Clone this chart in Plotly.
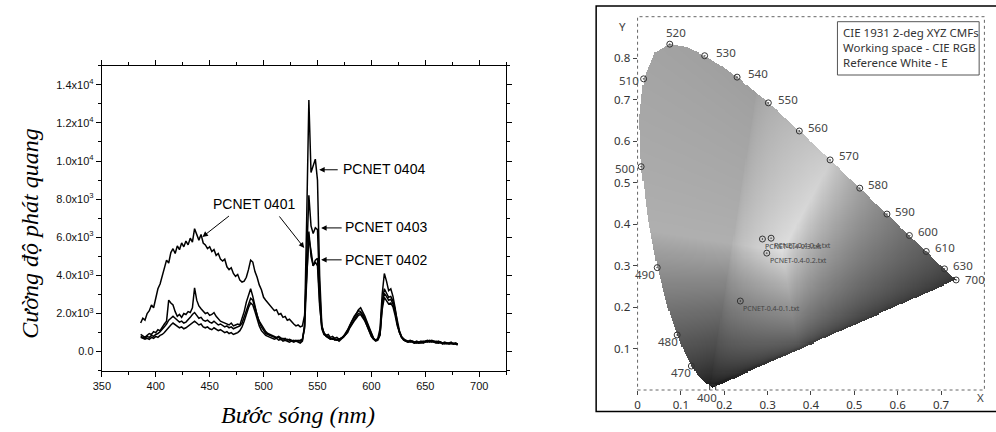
import numpy as np
import plotly.graph_objects as go

# ---------------- Photoluminescence spectra (left panel) ----------------
WAVELENGTH_NM = list(range(386, 681, 2))

PCNET_0401 = [
    1500, 1750, 1650, 2000, 2150, 2450, 2300, 2800, 3300, 3550,   # 386-404
    4000, 4400, 4800, 4650, 5200, 5400, 5150, 5550, 5350, 5700,   # 406-424
    5500, 5800, 5600, 5950, 5750, 6450, 6100, 5850, 6150, 5700,   # 426-444
    5600, 5400, 5500, 5250, 5350, 5050, 5150, 4850, 4750, 4850,   # 446-464
    4450, 4300, 4400, 4100, 3950, 4050, 3750, 3650, 3700, 3900,   # 466-484
    4300, 4800, 4700, 4200, 3900, 3500, 3250, 2850, 2700, 2550,   # 486-504
    2400, 2300, 2150, 2200, 1950, 2000, 1800, 1850, 1650, 1700,   # 506-524
    1550, 1450, 1350, 1400, 1300, 1350, 1900, 4200, 6000, 5300,   # 526-544
    4500, 4700, 4500, 2400, 1300, 1000, 850, 900, 750, 800,       # 546-564
    700, 750, 650, 700, 800, 900, 1100, 1300, 1500, 1700,         # 566-584
    1850, 2000, 2050, 1950, 1750, 1500, 1200, 900, 700, 600,      # 586-604
    650, 900, 2200, 2850, 2700, 2500, 2550, 2350, 1900, 1350,     # 606-624
    1000, 750, 650, 600, 550, 600, 550, 500, 550, 500,            # 626-644
    550, 500, 550, 600, 550, 600, 550, 500, 550, 500,             # 646-664
    450, 500, 450, 450, 500, 400, 450, 400,                       # 666-680
]

PCNET_0402 = [
    900, 800, 750, 850, 950, 900, 1050, 1000, 1150, 1100,         # 386-404
    1300, 1450, 1600, 2700, 2550, 2450, 2100, 1850, 1950, 1800,   # 406-424
    2000, 1950, 2100, 2050, 2300, 3350, 2700, 2400, 2250, 2100,   # 426-444
    2000, 2050, 1900, 1950, 2050, 1850, 1700, 1600, 1550, 1500,   # 446-464
    1450, 1400, 1500, 1350, 1400, 1450, 1400, 1700, 2100, 2600,   # 466-484
    3000, 3300, 2900, 2400, 1900, 1600, 1400, 1200, 1050, 950,    # 486-504
    900, 850, 800, 750, 800, 700, 650, 700, 600, 650,             # 506-524
    600, 550, 600, 550, 600, 650, 1200, 3800, 6300, 5000,         # 526-544
    4500, 4800, 4900, 2600, 1200, 900, 800, 700, 650, 700,        # 546-564
    600, 650, 550, 650, 750, 850, 1000, 1250, 1450, 1600,         # 566-584
    1750, 1900, 1950, 1800, 1600, 1350, 1100, 800, 650, 550,      # 586-604
    600, 850, 2400, 3050, 2900, 2700, 2750, 2500, 2100, 1450,     # 606-624
    1050, 750, 600, 550, 500, 550, 500, 450, 500, 450,            # 626-644
    500, 450, 500, 550, 500, 550, 500, 450, 500, 450,             # 646-664
    450, 450, 400, 450, 400, 450, 400, 400,                       # 666-680
]

PCNET_0403 = [
    800, 750, 700, 800, 750, 850, 800, 900, 950, 1050,            # 386-404
    1150, 1300, 1450, 1650, 1750, 1850, 1750, 1650, 1550, 1600,   # 406-424
    1500, 1550, 1650, 1800, 1950, 2050, 1900, 1750, 1800, 1650,   # 426-444
    1600, 1650, 1550, 1500, 1600, 1500, 1400, 1450, 1350, 1300,   # 446-464
    1350, 1250, 1300, 1200, 1250, 1300, 1350, 1500, 1800, 2200,   # 466-484
    2500, 2800, 2700, 2300, 1900, 1550, 1300, 1100, 950, 900,     # 486-504
    850, 800, 750, 700, 750, 650, 700, 600, 650, 600,             # 506-524
    550, 600, 550, 600, 550, 600, 1300, 5000, 8200, 6600,         # 526-544
    6200, 6500, 6400, 3200, 1300, 950, 850, 750, 700, 650,        # 546-564
    650, 600, 650, 700, 800, 950, 1150, 1400, 1650, 1850,         # 566-584
    2000, 2200, 2300, 2100, 1850, 1550, 1250, 950, 700, 600,      # 586-604
    650, 950, 2600, 3300, 3100, 2850, 2900, 2650, 2200, 1550,     # 606-624
    1100, 800, 650, 550, 550, 500, 550, 500, 450, 500,            # 626-644
    450, 500, 550, 500, 550, 500, 550, 500, 450, 500,             # 646-664
    400, 450, 450, 400, 450, 400, 400, 350,                       # 666-680
]

PCNET_0404 = [
    750, 700, 650, 700, 650, 750, 700, 800, 750, 850,             # 386-404
    900, 1000, 1150, 1300, 1400, 1500, 1400, 1300, 1250, 1300,    # 406-424
    1200, 1250, 1350, 1400, 1550, 1600, 1500, 1400, 1450, 1300,   # 426-444
    1250, 1300, 1200, 1150, 1250, 1150, 1100, 1150, 1050, 1000,   # 446-464
    1050, 950, 1000, 900, 950, 1000, 1100, 1300, 1600, 2000,      # 466-484
    2300, 2550, 2450, 2100, 1700, 1350, 1100, 950, 850, 800,      # 486-504
    750, 700, 650, 700, 600, 650, 550, 600, 550, 500,             # 506-524
    550, 500, 550, 500, 450, 550, 1400, 7000, 13200, 9400,        # 526-544
    9800, 10100, 9000, 4000, 1400, 950, 800, 700, 650, 700,       # 546-564
    650, 600, 650, 700, 750, 900, 1100, 1350, 1600, 1800,         # 566-584
    2000, 2150, 2100, 1900, 1650, 1350, 1050, 800, 650, 600,      # 586-604
    700, 1200, 3000, 4100, 3700, 3200, 3300, 2900, 2300, 1500,    # 606-624
    1000, 750, 600, 550, 500, 550, 500, 450, 500, 450,            # 626-644
    500, 550, 500, 550, 600, 550, 500, 550, 450, 500,             # 646-664
    450, 400, 450, 400, 450, 400, 450, 400,                       # 666-680
]

SPECTRA = {
    "PCNET 0401": PCNET_0401,
    "PCNET 0402": PCNET_0402,
    "PCNET 0403": PCNET_0403,
    "PCNET 0404": PCNET_0404,
}

X_TICKS_NM = [350, 400, 450, 500, 550, 600, 650, 700]
Y_TICK_VALS = [0, 2000, 4000, 6000, 8000, 10000, 12000, 14000]
Y_TICK_TEXT = ["0.0", "2.0x10<sup>3</sup>", "4.0x10<sup>3</sup>", "6.0x10<sup>3</sup>",
               "8.0x10<sup>3</sup>", "1.0x10<sup>4</sup>", "1.2x10<sup>4</sup>",
               "1.4x10<sup>4</sup>"]

# ---------------- CIE 1931 chromaticity diagram (right panel) ----------------
LOCUS_NM = list(range(380, 701, 5))
LOCUS_X = [0.1741, 0.1740, 0.1738, 0.1736, 0.1733, 0.1730, 0.1726, 0.1721, 0.1714,
           0.1703, 0.1689, 0.1669, 0.1644, 0.1611, 0.1566, 0.1510, 0.1440, 0.1355,
           0.1241, 0.1096, 0.0913, 0.0687, 0.0454, 0.0235, 0.0082, 0.0039, 0.0139,
           0.0389, 0.0743, 0.1142, 0.1547, 0.1929, 0.2296, 0.2658, 0.3016, 0.3373,
           0.3731, 0.4087, 0.4441, 0.4788, 0.5125, 0.5448, 0.5752, 0.6029, 0.6270,
           0.6482, 0.6658, 0.6801, 0.6915, 0.7006, 0.7079, 0.7140, 0.7190, 0.7230,
           0.7260, 0.7283, 0.7300, 0.7311, 0.7320, 0.7327, 0.7334, 0.7340, 0.7344,
           0.7346, 0.7347]
LOCUS_Y = [0.0050, 0.0050, 0.0049, 0.0049, 0.0048, 0.0048, 0.0048, 0.0048, 0.0051,
           0.0058, 0.0069, 0.0086, 0.0109, 0.0138, 0.0177, 0.0227, 0.0297, 0.0399,
           0.0578, 0.0868, 0.1327, 0.2007, 0.2950, 0.4127, 0.5384, 0.6548, 0.7502,
           0.8120, 0.8338, 0.8262, 0.8059, 0.7816, 0.7543, 0.7243, 0.6923, 0.6589,
           0.6245, 0.5896, 0.5547, 0.5202, 0.4866, 0.4544, 0.4242, 0.3965, 0.3725,
           0.3514, 0.3340, 0.3197, 0.3083, 0.2993, 0.2920, 0.2859, 0.2809, 0.2770,
           0.2740, 0.2717, 0.2700, 0.2689, 0.2680, 0.2673, 0.2666, 0.2660, 0.2656,
           0.2654, 0.2653]

MARKED_NM = [400, 470, 480, 490, 500, 510, 520, 530, 540, 550, 560, 570, 580, 590,
             600, 610, 630, 700]
# label offset from each marked point, in screen pixels (right, down)
MARK_LABEL_SHIFT = {400: (-6, 9), 470: (-10, 6), 480: (-9, 7), 490: (-12, 7),
                    500: (-16, 2), 510: (-15, 2), 520: (6, -12), 530: (21, -3),
                    540: (21, -4), 550: (20, -3), 560: (19, -3), 570: (19, -4),
                    580: (18, -4), 590: (18, -3), 600: (19, -4), 610: (19, -4),
                    630: (19, -3), 700: (19, 0)}

SAMPLE_NAMES = ["PCNET-0.4-0.1.txt", "PCNET-0.4-0.2.txt", "PCNET-0.4-0.3.txt",
                "PCNET-0.4-0.4.txt"]
SAMPLE_X = [0.237, 0.298, 0.288, 0.308]
SAMPLE_Y = [0.2145, 0.330, 0.364, 0.366]

INFO_LINES = ["CIE 1931 2-deg XYZ CMFs", "Working space - CIE RGB", "Reference White - E"]


def inside_polygon(px, py, vx, vy):
    res = np.zeros(px.shape, dtype=bool)
    n = len(vx)
    j = n - 1
    for i in range(n):
        if vy[i] != vy[j]:
            crosses = (vy[i] > py) != (vy[j] > py)
            xint = (vx[j] - vx[i]) * (py - vy[i]) / (vy[j] - vy[i]) + vx[i]
            res ^= crosses & (px < xint)
        j = i
    return res


def locus_shading(step=0.0025):
    gx = np.arange(0.0, 0.745, step)
    gy = np.arange(0.0, 0.84, step)
    X, Y = np.meshgrid(gx, gy)
    mask = inside_polygon(X, Y, np.array(LOCUS_X), np.array(LOCUS_Y))
    with np.errstate(divide="ignore", invalid="ignore"):
        yy = np.where(Y > 1e-4, Y, 1e-4)
        cx = X / yy
        cz = (1.0 - X - Y) / yy
        m = np.array([[2.3706743, -0.9000405, -0.4706338],
                      [-0.5138850, 1.4253036, 0.0885814],
                      [0.0052982, -0.0146949, 1.0093968]])
        r = m[0, 0] * cx + m[0, 1] + m[0, 2] * cz
        g = m[1, 0] * cx + m[1, 1] + m[1, 2] * cz
        b = m[2, 0] * cx + m[2, 1] + m[2, 2] * cz
        rgb = np.clip(np.stack([r, g, b]), 0, None)
        rgb = rgb / np.maximum(rgb.max(axis=0), 1e-9)
        rgb = rgb ** (1 / 1.8)
        gray = 222 * (0.21 * rgb[0] + 0.71 * rgb[1] + 0.08 * rgb[2])
    gray = np.where(mask, gray, np.nan)
    return gx, gy, gray


fig = go.Figure()

for name, vals in SPECTRA.items():
    fig.add_trace(go.Scatter(
        x=WAVELENGTH_NM, y=vals, mode="lines", name=name,
        line=dict(color="black", width=1.5),
        xaxis="x", yaxis="y", showlegend=False, hoverinfo="skip"))

gx, gy, gray = locus_shading()
fig.add_trace(go.Heatmap(
    x=gx, y=gy, z=gray, xaxis="x2", yaxis="y2", zmin=0, zmax=255,
    colorscale=[[0, "black"], [1, "white"]], showscale=False, hoverinfo="skip"))

lookup = dict(zip(LOCUS_NM, zip(LOCUS_X, LOCUS_Y)))
mark_x = [lookup[w][0] for w in MARKED_NM]
mark_y = [lookup[w][1] for w in MARKED_NM]
mark_sym = ["square-open" if w == 400 else "circle-open-dot" for w in MARKED_NM]
fig.add_trace(go.Scatter(
    x=mark_x, y=mark_y, mode="markers", xaxis="x2", yaxis="y2", showlegend=False,
    hoverinfo="skip",
    marker=dict(symbol=mark_sym, size=6, color="#333333", line=dict(color="#333333", width=1))))

fig.add_trace(go.Scatter(
    x=SAMPLE_X, y=SAMPLE_Y, mode="markers", xaxis="x2", yaxis="y2", showlegend=False,
    hoverinfo="skip",
    marker=dict(symbol="circle-open-dot", size=6, color="#333333",
                line=dict(color="#333333", width=1))))

annotations = []

# spectrum labels with arrows
label_font = dict(family="Liberation Sans, Arial", size=14, color="black")
arrow_style = dict(showarrow=True, arrowhead=2, arrowsize=1.1, arrowwidth=1,
                   arrowcolor="black", standoff=0, xref="x", yref="y", text="")
for tip_x, tip_y, ax, ay in [(551.6, 9540, 20, 0), (553.4, 6490, 22, 0),
                             (553.4, 4815, 22, 0), (443.3, 6020, 28, -22),
                             (537.7, 5440, -26, -33)]:
    annotations.append(dict(x=tip_x, y=tip_y, ax=ax, ay=ay, **arrow_style))
for text, tx, ty, anchor in [("PCNET 0404", 571.5, 9590, "left"),
                             ("PCNET 0403", 573.5, 6550, "left"),
                             ("PCNET 0402", 573.5, 4815, "left"),
                             ("PCNET 0401", 491.0, 7750, "center")]:
    annotations.append(dict(x=tx, y=ty, xref="x", yref="y", text=text, showarrow=False,
                            xanchor=anchor, yanchor="middle", font=label_font))

# axis titles of the spectrum panel
title_font = dict(family="Liberation Serif, Times New Roman", size=24, color="black")
annotations.append(dict(x=21 / 996, y=1 - 233 / 432, xref="paper", yref="paper",
                        text="<i>Cường độ phát quang</i>", textangle=-90, showarrow=False,
                        font=title_font, xanchor="center", yanchor="middle"))
annotations.append(dict(x=292 / 996, y=1 - 415 / 432, xref="paper", yref="paper",
                        text="<i>Bước sóng (nm)</i>", showarrow=False,
                        font=title_font, xanchor="center", yanchor="middle"))

# wavelength labels on the spectral locus
cie_font = dict(family="Noto Sans, DejaVu Sans", size=11.5, color="#444444")
for w, x, y in zip(MARKED_NM, mark_x, mark_y):
    dx, dy = MARK_LABEL_SHIFT[w]
    annotations.append(dict(x=x, y=y, xref="x2", yref="y2", text=str(w), showarrow=False,
                            xshift=dx, yshift=-dy, font=cie_font,
                            xanchor="center", yanchor="middle"))

# sample point labels
for name, x, y in zip(SAMPLE_NAMES, SAMPLE_X, SAMPLE_Y):
    annotations.append(dict(x=x, y=y, xref="x2", yref="y2", text=name, showarrow=False,
                            xshift=1, yshift=-7, xanchor="left", yanchor="middle",
                            font=dict(family="Noto Sans, DejaVu Sans", size=7,
                                      color="#444444")))

# info box text
for k, line in enumerate(INFO_LINES):
    annotations.append(dict(x=840 / 996, y=1 - (32 + 15.3 * k) / 432, xref="paper",
                            yref="paper", text=line, showarrow=False, xanchor="left",
                            yanchor="middle", font=dict(family="Noto Sans, DejaVu Sans",
                                                        size=11.5, color="#333333")))

annotations.append(dict(x=619 / 996, y=1 - 17 / 432, xref="paper", yref="paper", text="Y",
                        showarrow=False, font=cie_font))
annotations.append(dict(x=986 / 996, y=1 - 407 / 432, xref="paper", yref="paper", text="X",
                        showarrow=False, font=cie_font))

shapes = [
    dict(type="rect", xref="x2 domain", yref="y2 domain", x0=0, x1=1, y0=0, y1=1,
         line=dict(color="#666666", width=1, dash="dot")),
    dict(type="rect", xref="paper", yref="paper", x0=592.5 / 996, x1=1.003,
         y0=1 - 411.5 / 432, y1=1 - 6 / 432, line=dict(color="black", width=1.5)),
    dict(type="rect", xref="paper", yref="paper", x0=836 / 996, x1=979 / 996,
         y0=1 - 75 / 432, y1=1 - 21.7 / 432, line=dict(color="#555555", width=1),
         fillcolor="rgba(255,255,255,0)"),
]

tick_font_left = dict(family="Liberation Sans, Arial", size=11, color="#111111")
tick_font_cie = dict(family="Noto Sans, DejaVu Sans", size=11.5, color="#333333")

fig.update_layout(
    width=996, height=432, margin=dict(l=0, r=0, t=0, b=0),
    paper_bgcolor="white", plot_bgcolor="white", showlegend=False,
    xaxis=dict(domain=[93.7 / 996, 501.7 / 996], range=[350, 725], anchor="y",
               tickvals=X_TICKS_NM, ticks="outside", ticklen=5, tickwidth=1,
               tickcolor="black", showline=True, linecolor="black", linewidth=1.2,
               mirror="ticks", showgrid=False, zeroline=False, tickfont=tick_font_left,
               minor=dict(dtick=25, tick0=350, ticks="outside", ticklen=3,
                          tickcolor="black", showgrid=False)),
    yaxis=dict(domain=[1 - 370.7 / 432, 1 - 65.7 / 432], range=[-1000, 15000], anchor="x",
               tickvals=Y_TICK_VALS, ticktext=Y_TICK_TEXT, ticks="outside", ticklen=5,
               tickwidth=1, tickcolor="black", showline=True, linecolor="black",
               linewidth=1.2, mirror="ticks", showgrid=False, zeroline=False,
               tickfont=tick_font_left,
               minor=dict(dtick=1000, tick0=0, ticks="outside", ticklen=3,
                          tickcolor="black", showgrid=False)),
    xaxis2=dict(domain=[634.3 / 996, 984.3 / 996], range=[0, 0.8], anchor="y2",
                tickvals=[0, 0.1, 0.2, 0.3, 0.4, 0.5, 0.6, 0.7],
                ticktext=["0", "0.1", "0.2", "0.3", "0.4", "0.5", "0.6", "0.7"],
                ticks="outside", ticklen=4, tickcolor="#444444", showline=False,
                showgrid=False, zeroline=False, tickfont=tick_font_cie),
    yaxis2=dict(domain=[1 - 390 / 432, 1 - 16.7 / 432], range=[0, 0.9], anchor="x2",
                tickvals=[0.1, 0.2, 0.3, 0.4, 0.5, 0.6, 0.7, 0.8],
                ticks="outside", ticklen=4, tickcolor="#444444", showline=False,
                showgrid=False, zeroline=False, tickfont=tick_font_cie),
    annotations=annotations,
    shapes=shapes,
)

fig.write_html("out.html")
